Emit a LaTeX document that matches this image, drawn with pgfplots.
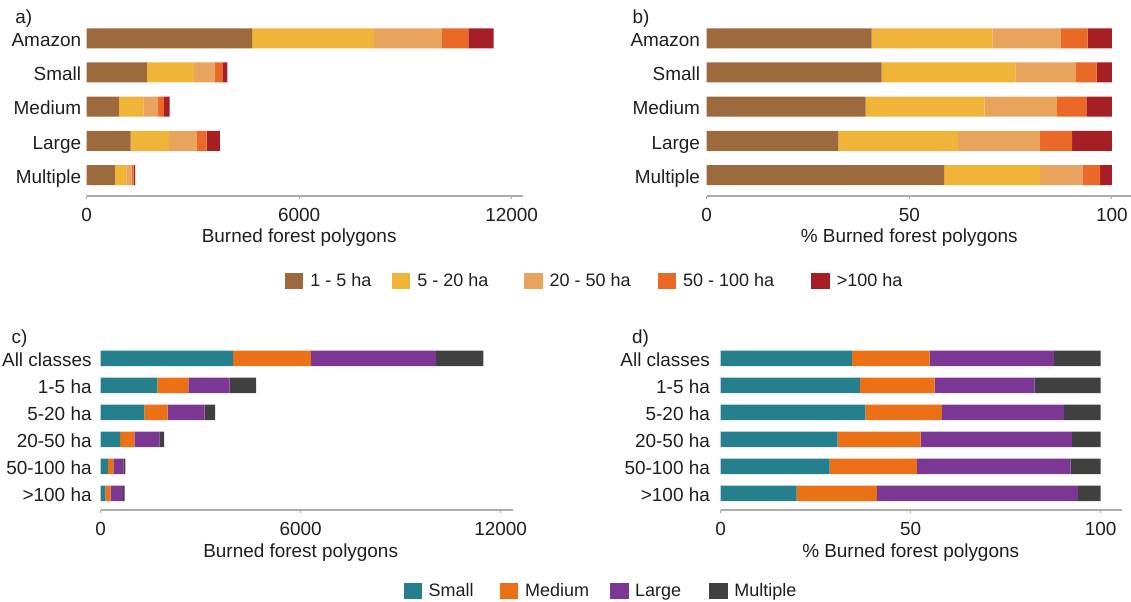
\documentclass[border=0pt]{standalone}
\usepackage{fontspec}
\setmainfont{Liberation Sans}
\usepackage{pgfplots}
\pgfplotsset{compat=1.18}

% size-class palette
\definecolor{haA}{RGB}{157,106,62}
\definecolor{haB}{RGB}{240,180,56}
\definecolor{haC}{RGB}{232,163,92}
\definecolor{haD}{RGB}{234,105,38}
\definecolor{haE}{RGB}{166,31,36}
% polygon-class palette
\definecolor{clS}{RGB}{38,127,141}
\definecolor{clM}{RGB}{236,113,22}
\definecolor{clL}{RGB}{122,56,148}
\definecolor{clX}{RGB}{64,64,64}
\definecolor{txt}{RGB}{30,30,30}

\newcommand\lbl{\fontsize{14.2}{17}\selectfont}
\newcommand\leg{\fontsize{13.5}{16}\selectfont}

\pgfplotsset{
  panel/.style={
    scale only axis,
    xbar stacked,
    axis x line=bottom,
    axis y line=left,
    y axis line style={draw=none},
    x axis line style={-, draw=gray!65, line width=0.9pt},
    tick align=outside,
    major tick length=2.4pt,
    xtick style={draw=gray!65, line width=0.8pt},
    ytick style={draw=none},
    scaled x ticks=false,
    tick label style={font=\lbl, text=txt},
    xticklabel style={anchor=base, yshift=-16.5pt},
    yticklabel style={anchor=base east, inner sep=0pt, yshift=-6.2pt},
    label style={font=\lbl, text=txt},
    every axis plot/.append style={draw=none},
    legend image code/.code={\fill[##1] (0pt,-6.2pt) rectangle (13.8pt,6.2pt);},
  },
}

\begin{document}
\begin{tikzpicture}
\useasboundingbox (0,0) rectangle (848.25pt,450.75pt);

% a) counts by size class
\begin{axis}[panel,
  at={(65.0pt,303.75pt)}, anchor=south west,
  width=327.45pt, height=127.5pt,
  xmin=0, xmax=12328, ymin=-0.614, ymax=4.36,
  bar width=15pt,
  xtick={0,6000,12000}, xticklabels={0,6000,12000},
  ytick={0,1,2,3,4}, yticklabels={Multiple,Large,Medium,Small,Amazon},
  yticklabel style={xshift=-1.6pt},
  xlabel={Burned forest polygons},
  xlabel style={at={(axis description cs:0.4867,0)}, anchor=base, yshift=-34.7pt},
  legend columns=5,
  legend style={at={(axis description cs:0.4537,-0.5)}, anchor=west,
    draw=none, fill=none, inner sep=0pt, font=\leg, text=txt,
    nodes={inner sep=0pt},
    /tikz/every odd column/.style={column sep=5.25pt},
    /tikz/every even column/.style={column sep=0pt}},
]
\addplot[fill=haA] coordinates {(795,0) (1238,1) (910,2) (1699,3) (4674,4)};
\addplot[fill=haB] coordinates {(328,0) (1083,1) (691,2) (1325,3) (3436,4)};
\addplot[fill=haC] coordinates {(144,0) (778,1) (415,2) (585,3) (1921,4)};
\addplot[fill=haD] coordinates {(58,0) (288,1) (161,2) (221,3) (749,4)};
\addplot[fill=haE] coordinates {(46,0) (374,1) (164,2) (144,3) (711,4)};
\legend{\makebox[61.1pt][l]{1 - 5 ha},\makebox[80.2pt][l]{5 - 20 ha},
  \makebox[81.1pt][l]{20 - 50 ha},\makebox[96.2pt][l]{50 - 100 ha},>100 ha}
\end{axis}

% b) shares by size class
\begin{axis}[panel,
  at={(530.0pt,303.75pt)}, anchor=south west,
  width=318.2pt, height=127.5pt,
  xmin=0, xmax=104.69, ymin=-0.614, ymax=4.36,
  bar width=15pt,
  xtick={0,50,100}, xticklabels={0,50,100},
  ytick={0,1,2,3,4}, yticklabels={Multiple,Large,Medium,Small,Amazon},
  yticklabel style={xshift=-2.4pt},
  xlabel={\% Burned forest polygons},
  xlabel style={at={(axis description cs:0.4776,0)}, anchor=base, yshift=-34.5pt},
]
\addplot[fill=haA] coordinates {(58.6,0) (32.5,1) (39.2,2) (43.2,3) (40.7,4)};
\addplot[fill=haB] coordinates {(23.7,0) (29.5,1) (29.4,2) (33.0,3) (29.8,4)};
\addplot[fill=haC] coordinates {(10.4,0) (20.1,1) (17.8,2) (14.9,3) (16.8,4)};
\addplot[fill=haD] coordinates {(4.4,0) (8.1,1) (7.3,2) (5.1,3) (6.7,4)};
\addplot[fill=haE] coordinates {(2.9,0) (9.8,1) (6.3,2) (3.8,3) (6.0,4)};
\end{axis}

% c) counts by polygon class
\begin{axis}[panel,
  at={(75.5pt,68.25pt)}, anchor=south west,
  width=309pt, height=121.5pt,
  xmin=0, xmax=12360, ymin=-0.619, ymax=5.381,
  bar width=11.6pt,
  xtick={0,6000,12000}, xticklabels={0,6000,12000},
  ytick={0,1,2,3,4,5}, yticklabels={>100 ha,50-100 ha,20-50 ha,5-20 ha,1-5 ha,All classes},
  yticklabel style={xshift=-4.2pt},
  xlabel={Burned forest polygons},
  xlabel style={at={(axis description cs:0.4854,0)}, anchor=base, yshift=-35.3pt},
  legend columns=4,
  legend style={at={(axis description cs:0.7345,-0.5)}, anchor=west,
    draw=none, fill=none, inner sep=0pt, font=\leg, text=txt,
    nodes={inner sep=0pt},
    /tikz/every odd column/.style={column sep=5.0pt},
    /tikz/every even column/.style={column sep=0pt}},
]
\addplot[fill=clS] coordinates {(144,0) (213,1) (581,2) (1314,3) (1702,4) (3973,5)};
\addplot[fill=clM] coordinates {(152,0) (171,1) (427,2) (694,3) (926,4) (2332,5)};
\addplot[fill=clL] coordinates {(381,0) (300,1) (755,2) (1109,3) (1244,4) (3759,5)};
\addplot[fill=clX] coordinates {(43,0) (59,1) (141,2) (315,3) (794,4) (1417,5)};
\legend{\makebox[53.6pt][l]{Small},\makebox[63.75pt][l]{Medium},
  \makebox[55.5pt][l]{Large},Multiple}
\end{axis}

% d) shares by polygon class
\begin{axis}[panel,
  at={(540.5pt,68.25pt)}, anchor=south west,
  width=300.75pt, height=121.5pt,
  xmin=0, xmax=105.53, ymin=-0.619, ymax=5.381,
  bar width=11.6pt,
  xtick={0,50,100}, xticklabels={0,50,100},
  ytick={0,1,2,3,4,5}, yticklabels={>100 ha,50-100 ha,20-50 ha,5-20 ha,1-5 ha,All classes},
  yticklabel style={xshift=-5.5pt},
  xlabel={\% Burned forest polygons},
  xlabel style={at={(axis description cs:0.4738,0)}, anchor=base, yshift=-35.3pt},
]
\addplot[fill=clS] coordinates {(20.0,0) (28.7,1) (30.8,2) (38.1,3) (36.6,4) (34.5,5)};
\addplot[fill=clM] coordinates {(21.1,0) (22.9,1) (21.8,2) (20.1,3) (19.7,4) (20.5,5)};
\addplot[fill=clL] coordinates {(52.9,0) (40.5,1) (39.8,2) (32.2,3) (26.3,4) (32.7,5)};
\addplot[fill=clX] coordinates {(6.0,0) (7.9,1) (7.6,2) (9.6,3) (17.4,4) (12.3,5)};
\end{axis}

% panel letters
\node[anchor=base west, font=\lbl, text=txt, inner sep=0pt] at (11.25pt,433.3pt) {a)};
\node[anchor=base west, font=\lbl, text=txt, inner sep=0pt] at (474.2pt,433.3pt) {b)};
\node[anchor=base west, font=\lbl, text=txt, inner sep=0pt] at (8.5pt,193.3pt) {c)};
\node[anchor=base west, font=\lbl, text=txt, inner sep=0pt] at (473.8pt,193.3pt) {d)};
\end{tikzpicture}
\end{document}
